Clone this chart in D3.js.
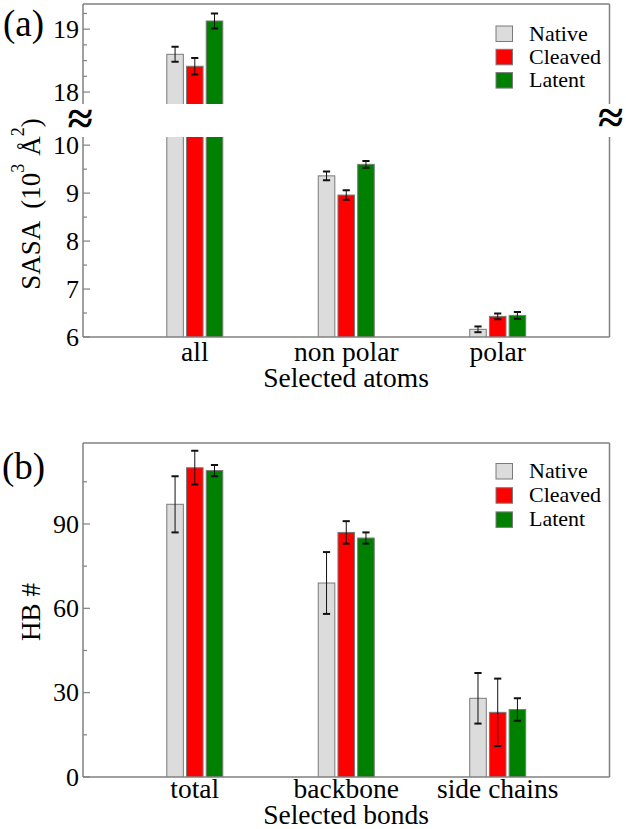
<!DOCTYPE html>
<html><head><meta charset="utf-8">
<script src="https://cdn.jsdelivr.net/npm/d3@7"></script>
<style>
html,body{margin:0;padding:0;background:#fff;}
svg{display:block;}
</style></head>
<body>
<svg id="c" width="626" height="829"></svg>
<script>
// ---------- data ----------
const series = ["Native", "Cleaved", "Latent"];
const seriesColors = ["#dcdcdc", "#ff0000", "#008000"];

const categoriesA = ["all", "non polar", "polar"];
const sasaNative = [18.60, 9.36, 6.16];
const sasaNativeErr = [0.12, 0.09, 0.06];
const sasaCleaved = [18.41, 8.96, 6.43];
const sasaCleavedErr = [0.13, 0.10, 0.06];
const sasaLatent = [19.13, 9.60, 6.45];
const sasaLatentErr = [0.12, 0.07, 0.07];
const sasaLowTicks = [6, 7, 8, 9, 10];
const sasaLowMinor = [6.5, 7.5, 8.5, 9.5];
const sasaUpTicks = [18, 19];
const sasaUpMinor = [18.25, 18.5, 18.75, 19.25];

const categoriesB = ["total", "backbone", "side chains"];
const hbNative = [97, 69, 28];
const hbNativeErr = [10, 11, 9];
const hbCleaved = [110, 87, 23];
const hbCleavedErr = [6, 4, 12];
const hbLatent = [109, 85, 24];
const hbLatentErr = [2, 2, 4];
const hbTicks = [0, 30, 60, 90];
const hbMinor = [15, 45, 75, 105];

// ---------- layout ----------
const FONT = '"Liberation Serif"';
const svg = d3.select("#c");
const L = 83, R = 609.5;
const frameColor = "#808080";
const barStroke = "#7a7a7a";

function rows(cats, vals, errs) {
  const out = [];
  cats.forEach((c, i) => series.forEach((s, j) => out.push({cat: c, s, j, v: vals[j][i], e: errs[j][i]})));
  return out;
}

const dataA = rows(categoriesA, [sasaNative, sasaCleaved, sasaLatent], [sasaNativeErr, sasaCleavedErr, sasaLatentErr]);
const dataB = rows(categoriesB, [hbNative, hbCleaved, hbLatent], [hbNativeErr, hbCleavedErr, hbLatentErr]);

const x1 = d3.scaleBand().domain(series).range([-28, 28]).paddingInner(0.16);

function drawBars(g, data, x, y, clipId, top, bottom) {
  svg.append("clipPath").attr("id", clipId).append("rect")
    .attr("x", L).attr("y", top).attr("width", R - L).attr("height", bottom - top);
  const gg = g.append("g").attr("clip-path", `url(#${clipId})`);
  const [d0] = y.domain();
  gg.selectAll("rect.bar").data(data.filter(d => d.v > d0)).join("rect")
    .attr("class", "bar")
    .attr("x", d => x(d.cat) + x1(d.s))
    .attr("width", x1.bandwidth())
    .attr("y", d => y(d.v))
    .attr("height", d => y(d0) - y(d.v) + 10)
    .attr("fill", d => seriesColors[d.j])
    .attr("stroke", barStroke).attr("stroke-width", 1);
  const [lo, hi] = y.domain();
  const eb = data.filter(d => d.v >= lo && d.v <= hi);
  const cx = d => x(d.cat) + x1(d.s) + x1.bandwidth() / 2;
  gg.selectAll("line.ev").data(eb).join("line").attr("class", "ev")
    .attr("x1", cx).attr("x2", cx)
    .attr("y1", d => y(d.v - d.e)).attr("y2", d => y(d.v + d.e))
    .attr("stroke", "#111").attr("stroke-width", 1);
  ["lo", "hi"].forEach(k => {
    gg.selectAll("line.cap" + k).data(eb).join("line").attr("class", "cap" + k)
      .attr("x1", d => cx(d) - 3.6).attr("x2", d => cx(d) + 3.6)
      .attr("y1", d => y(k === "lo" ? d.v - d.e : d.v + d.e))
      .attr("y2", d => y(k === "lo" ? d.v - d.e : d.v + d.e))
      .attr("stroke", "#111").attr("stroke-width", 2);
  });
}

function yAxis(g, y, ticks, minor, fs) {
  g.selectAll(null).data(ticks).join("line")
    .attr("x1", L).attr("x2", L + 7).attr("y1", d => y(d)).attr("y2", d => y(d))
    .attr("stroke", frameColor).attr("stroke-width", 1.2);
  g.selectAll(null).data(minor).join("line")
    .attr("x1", L).attr("x2", L + 4).attr("y1", d => y(d)).attr("y2", d => y(d))
    .attr("stroke", frameColor).attr("stroke-width", 1.2);
  g.selectAll(null).data(ticks).join("text")
    .attr("x", L - 4).attr("y", d => y(d)).attr("dy", "0.33em")
    .attr("text-anchor", "end").attr("font-size", fs).style("font-family", FONT).text(d => d);
}

function frameLine(x1_, y1_, x2_, y2_) {
  svg.append("line").attr("x1", x1_).attr("y1", y1_).attr("x2", x2_).attr("y2", y2_)
    .attr("stroke", frameColor).attr("stroke-width", 1.5);
}

function txt(x, y, s, fs, anchor) {
  return svg.append("text").attr("x", x).attr("y", y).attr("font-size", fs)
    .style("font-family", FONT).attr("text-anchor", anchor || "start").text(s);
}

function legend(y0, step) {
  series.forEach((s, j) => {
    svg.append("rect").attr("x", 496).attr("y", y0 + j * step).attr("width", 16.5).attr("height", 15.5)
      .attr("fill", seriesColors[j]).attr("stroke", barStroke).attr("stroke-width", 1);
    txt(529, y0 + j * step + 14.5, s, 22);
  });
}

// ---------- panel (a) ----------
const xA = d3.scalePoint().domain(categoriesA).range([L, R]).padding(0.738);
const yUp = d3.scaleLinear().domain([17.81, 19.4]).range([104, 4]);
const yLow = d3.scaleLinear().domain([6, 10.17]).range([337, 137]);
const gA = svg.append("g");
drawBars(gA, dataA, xA, yUp, "clipUp", 4, 104);
drawBars(gA, dataA, xA, yLow, "clipLow", 137, 337);
frameLine(L, 4, R, 4);
frameLine(L, 4, L, 104);
frameLine(R, 4, R, 104);
frameLine(L, 137, L, 337);
frameLine(R, 137, R, 337);
frameLine(L, 337, R, 337);
yAxis(gA, yUp, sasaUpTicks, sasaUpMinor, 26);
yAxis(gA, yLow, sasaLowTicks, sasaLowMinor, 26);
categoriesA.forEach(c => txt(xA(c), 361, c, 27.5, "middle"));
txt(346, 387, "Selected atoms", 27.5, "middle");
[[L - 3, 120], [R + 1, 119]].forEach(([bx, by]) =>
  svg.append("text").attr("x", bx).attr("y", by).attr("dy", "0.3em").attr("text-anchor", "middle")
    .attr("font-size", 46).attr("font-weight", "bold").style("font-family", FONT).text("≈"));
const ta = svg.append("text").attr("transform", "translate(40,204) rotate(-90)")
  .attr("text-anchor", "middle").attr("font-size", 27).style("font-family", FONT);
ta.append("tspan").text("SASA");
ta.append("tspan").attr("dx", 12).text("(10");
ta.append("tspan").attr("dy", -16).attr("font-size", 18).text("3");
ta.append("tspan").attr("dy", 16).attr("dx", 8).text("Å");
ta.append("tspan").attr("dy", -16).attr("font-size", 18).text("2");
ta.append("tspan").attr("dy", 16).text(")");
txt(3, 36, "(a)", 37);
legend(26, 23.3);

// ---------- panel (b) ----------
const xB = d3.scalePoint().domain(categoriesB).range([L, R]).padding(0.738);
const yB = d3.scaleLinear().domain([0, 118.8]).range([777, 443]);
const gB = svg.append("g");
drawBars(gB, dataB, xB, yB, "clipB", 443, 777);
frameLine(L, 443, R, 443);
frameLine(L, 443, L, 777);
frameLine(R, 443, R, 777);
frameLine(L, 777, R, 777);
yAxis(gB, yB, hbTicks, hbMinor, 26);
categoriesB.forEach(c => txt(xB(c), 798, c, 27.5, "middle"));
txt(346, 824, "Selected bonds", 27.5, "middle");
svg.append("text").attr("transform", "translate(40,612) rotate(-90)")
  .attr("text-anchor", "middle").attr("font-size", 27).style("font-family", FONT).text("HB #");
txt(2, 479, "(b)", 37);
legend(463.5, 24.2);
</script>
</body></html>
